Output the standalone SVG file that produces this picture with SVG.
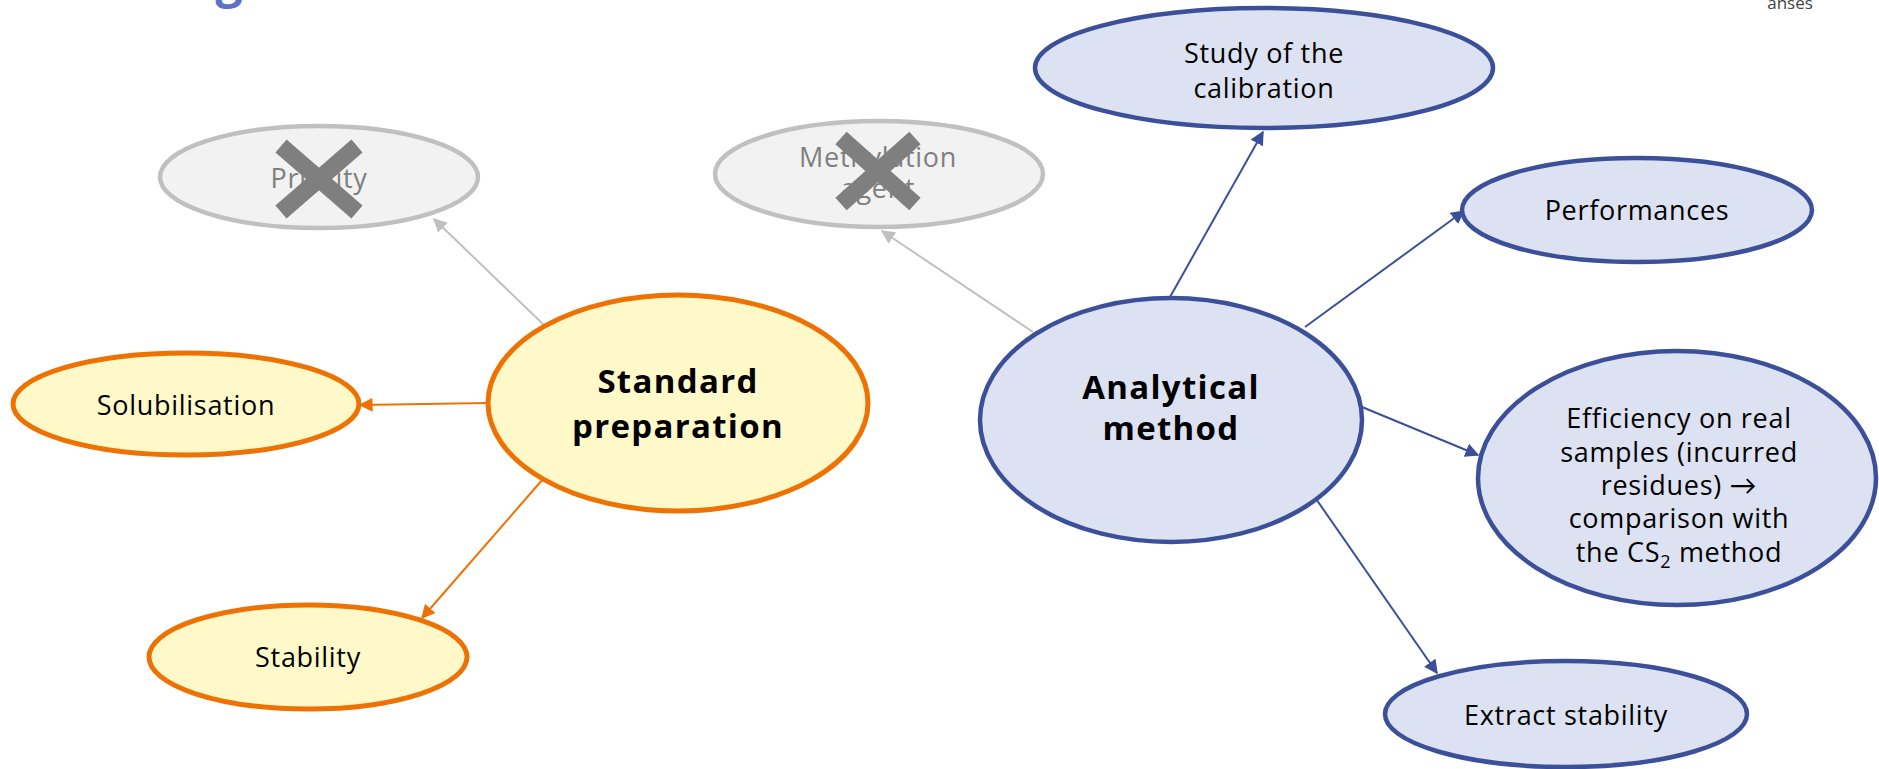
<svg xmlns="http://www.w3.org/2000/svg" width="1879" height="769" viewBox="0 0 1879 769">
  <style>
    text { font-family: "Open Sans", Lato, "Liberation Sans", sans-serif; text-anchor: middle; }
    .lbl { font-size: 27px; fill: #000; letter-spacing: 0.7px; }
    .big { font-size: 33px; font-weight: bold; fill: #000; letter-spacing: 1.3px; }
    .off { font-size: 27px; fill: #7f7f7f; letter-spacing: 0.7px; }
    .orange { fill: #fff9c9; stroke: #ee7203; stroke-width: 5; }
    .blue { fill: #dde2f2; stroke: #3c5099; stroke-width: 4.5; }
    .gray { fill: #f2f2f2; stroke: #c0c0c0; stroke-width: 4.5; }
    .cross { stroke: #7f7f7f; stroke-width: 17; stroke-linecap: butt; }
    .c-orange { stroke: #ee7203; stroke-width: 2; fill: none; }
    .c-blue { stroke: #3c5099; stroke-width: 2; fill: none; }
    .c-gray { stroke: #c0c0c0; stroke-width: 2; fill: none; }
  </style>
  <defs>
    <marker id="ah-orange" viewBox="0 0 10 10" refX="9" refY="5" markerWidth="14" markerHeight="14" markerUnits="userSpaceOnUse" orient="auto">
      <path d="M0,0 L10,5 L0,10 z" fill="#ee7203"/>
    </marker>
    <marker id="ah-blue" viewBox="0 0 10 10" refX="9" refY="5" markerWidth="14" markerHeight="14" markerUnits="userSpaceOnUse" orient="auto">
      <path d="M0,0 L10,5 L0,10 z" fill="#3c5099"/>
    </marker>
    <marker id="ah-gray" viewBox="0 0 10 10" refX="9" refY="5" markerWidth="14" markerHeight="14" markerUnits="userSpaceOnUse" orient="auto">
      <path d="M0,0 L10,5 L0,10 z" fill="#c0c0c0"/>
    </marker>
  </defs>

  <rect x="0" y="0" width="1879" height="769" fill="#ffffff"/>

  <!-- header remnants, running off the top edge -->
  <text x="229" y="-3" style="font-size:48px;font-weight:bold;fill:#5b73c4;letter-spacing:0">g</text>
  <text x="1790" y="9" style="font-size:17px;fill:#444;letter-spacing:0">anses</text>

  <g id="connectors">
    <line class="c-gray" x1="545" y1="326" x2="434" y2="219" marker-end="url(#ah-gray)"/>
    <line class="c-orange" x1="488" y1="403" x2="360" y2="405" marker-end="url(#ah-orange)"/>
    <line class="c-orange" x1="543" y1="479" x2="422" y2="618" marker-end="url(#ah-orange)"/>
    <line class="c-gray" x1="1033" y1="332" x2="882" y2="231" marker-end="url(#ah-gray)"/>
    <line class="c-blue" x1="1170" y1="297" x2="1263" y2="132" marker-end="url(#ah-blue)"/>
    <line class="c-blue" x1="1305" y1="327" x2="1464" y2="211" marker-end="url(#ah-blue)"/>
    <line class="c-blue" x1="1362" y1="407" x2="1478" y2="455" marker-end="url(#ah-blue)"/>
    <line class="c-blue" x1="1305" y1="483" x2="1437" y2="673" marker-end="url(#ah-blue)"/>
  </g>

  <g id="priority">
    <ellipse class="gray" cx="319" cy="177" rx="159" ry="51"/>
    <text class="off" x="319" y="188">Priority</text>
    <line class="cross" x1="281" y1="146" x2="357" y2="212"/>
    <line class="cross" x1="357" y1="146" x2="281" y2="212"/>
  </g>

  <g id="methylation-agent">
    <ellipse class="gray" cx="879" cy="174" rx="164" ry="53"/>
    <text class="off" x="878" y="167">Methylation</text>
    <text class="off" x="878" y="198">agent</text>
    <line class="cross" x1="841" y1="138" x2="915" y2="204"/>
    <line class="cross" x1="915" y1="138" x2="841" y2="204"/>
  </g>

  <g id="standard-preparation">
    <ellipse class="orange" cx="678" cy="403" rx="190" ry="108"/>
    <text class="big" x="678" y="393">Standard</text>
    <text class="big" x="678" y="438">preparation</text>
  </g>

  <g id="solubilisation">
    <ellipse class="orange" cx="186" cy="404" rx="173" ry="51"/>
    <text class="lbl" x="186" y="415">Solubilisation</text>
  </g>

  <g id="stability">
    <ellipse class="orange" cx="308" cy="657" rx="159" ry="52"/>
    <text class="lbl" x="308" y="667">Stability</text>
  </g>

  <g id="analytical-method">
    <ellipse class="blue" cx="1171" cy="420" rx="191" ry="122"/>
    <text class="big" x="1171" y="399">Analytical</text>
    <text class="big" x="1171" y="440">method</text>
  </g>

  <g id="study-calibration">
    <ellipse class="blue" cx="1264" cy="68" rx="229" ry="60"/>
    <text class="lbl" x="1264" y="63">Study of the</text>
    <text class="lbl" x="1264" y="98">calibration</text>
  </g>

  <g id="performances">
    <ellipse class="blue" cx="1637" cy="210" rx="175" ry="52"/>
    <text class="lbl" x="1637" y="220">Performances</text>
  </g>

  <g id="efficiency">
    <ellipse class="blue" cx="1677" cy="478" rx="199" ry="127"/>
    <text class="lbl" x="1679" y="428">Efficiency on real</text>
    <text class="lbl" x="1679" y="462">samples (incurred</text>
    <text class="lbl" x="1679" y="495">residues) →</text>
    <text class="lbl" x="1679" y="528">comparison with</text>
    <text class="lbl" x="1679" y="562">the CS<tspan font-size="18" dy="6">2</tspan><tspan dy="-6"> method</tspan></text>
  </g>

  <g id="extract-stability">
    <ellipse class="blue" cx="1566" cy="714" rx="181" ry="53"/>
    <text class="lbl" x="1566" y="725">Extract stability</text>
  </g>
</svg>
